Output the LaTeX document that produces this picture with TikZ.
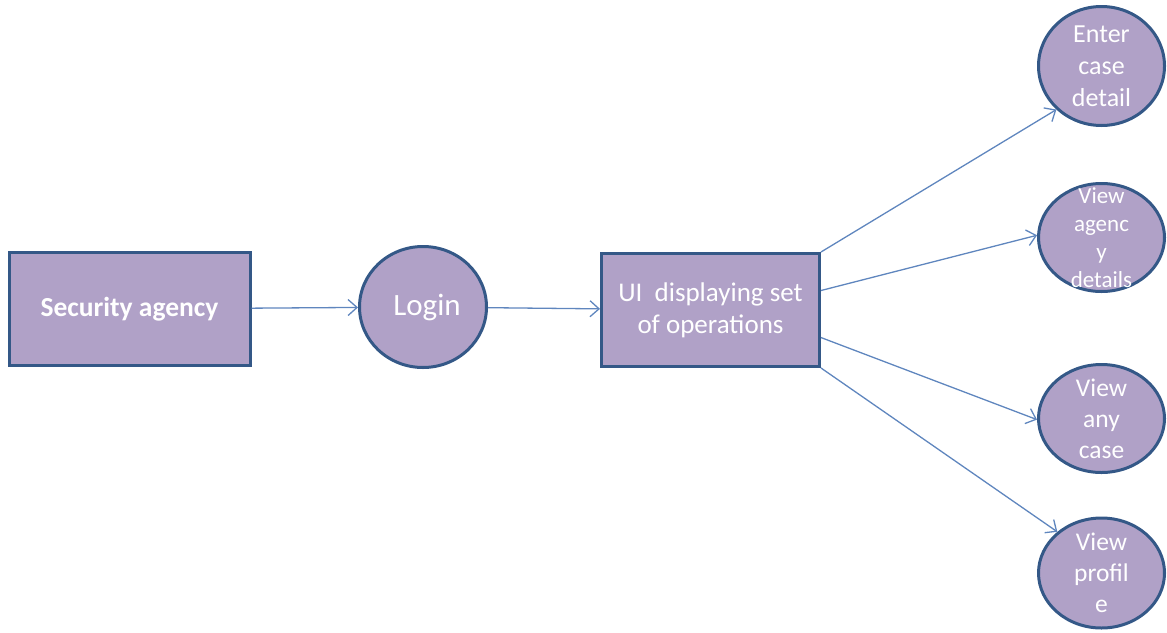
\documentclass[tikz,border=0pt]{standalone}
\usepackage{fontspec}
\setmainfont{Carlito}
\usetikzlibrary{shapes.geometric,arrows.meta}

\definecolor{opfill}{HTML}{B0A1C7}
\definecolor{opline}{HTML}{345887}
\definecolor{flow}{HTML}{5F86BE}

\tikzset{
  box/.style={draw=opline, fill=opfill, line width=3pt, inner sep=0pt,
    minimum width=#1, minimum height=113pt, text=white, align=center},
  op/.style={draw=opline, fill=opfill, line width=3pt, ellipse, inner sep=0pt,
    minimum width=126pt, minimum height=#1},
  optxt/.style={text=white, align=center, font=\fontsize{26}{32}\selectfont},
  flowto/.style={draw=flow, line width=1.3pt, -{Straight Barb[length=9pt,width=16pt]}}
}

\begin{document}
\begin{tikzpicture}[x=1pt,y=-1pt]
\useasboundingbox (0,0) rectangle (1167,632);
\node[box=241pt, font=\fontsize{27.5}{32}\selectfont\bfseries] (sec) at (129.5,309) {Security agency};
\node[op=121pt, minimum width=127pt, label={[optxt, font=\fontsize{31}{36}\selectfont, xshift=4pt]center:Login}] (login) at (423,307) {};
\node[box=218pt, font=\fontsize{27}{32}\selectfont] (ui) at (710.5,310) {UI\ \ displaying set\\of operations};

\node[op=119pt, label={[optxt]center:{Enter\\case\\detail}}] (enter) at (1101.5,66) {};
\node[op=108pt, label={[optxt, font=\fontsize{23}{28}\selectfont]center:{View\\agenc\\y\\details}}] (agency) at (1101.5,237.5) {};
\node[op=108pt, label={[optxt, font=\fontsize{25.5}{31}\selectfont]center:{View\\any\\case}}] (anycase) at (1101.5,418.5) {};
\node[op=110pt, label={[optxt, font=\fontsize{25.5}{31}\selectfont]center:{View\\profil\\e}}] (profile) at (1101.5,573) {};

\draw[flowto] (sec) -- (login);
\draw[flowto] (login) -- (ui);
\draw[flowto] (ui.north east) -- (enter.224);
\draw[flowto] (ui.10) -- (agency.178);
\draw[flowto] (ui.-14) -- (anycase.181);
\draw[flowto] (ui.south east) -- (profile.137);
\end{tikzpicture}
\end{document}
